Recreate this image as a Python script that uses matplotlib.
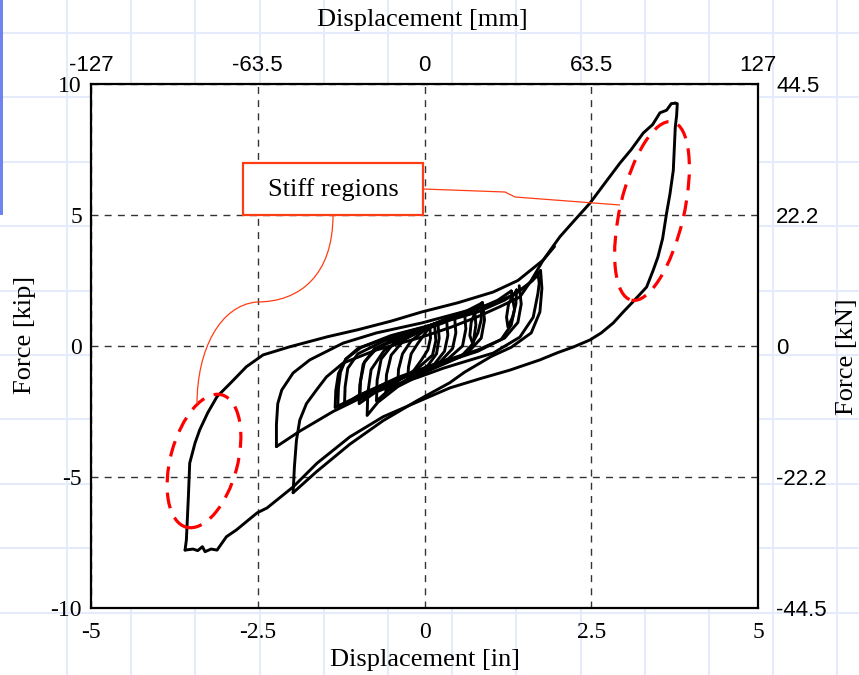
import numpy as np
import matplotlib
matplotlib.use('Agg')
from matplotlib import pyplot as plt
from matplotlib.patches import Ellipse, Rectangle, PathPatch
from matplotlib.path import Path
from matplotlib.lines import Line2D
from matplotlib.transforms import IdentityTransform

plt.rcParams['axes.unicode_minus'] = False

SERIF = ['Liberation Serif', 'DejaVu Serif']
SANS = ['Liberation Sans', 'DejaVu Sans']

# tick values / labels
in_ticks = [-5, -2.5, 0, 2.5, 5]
in_labels = ['-5', '-2.5', '0', '2.5', '5']
mm_labels = ['-127', '-63.5', '0', '63.5', '127']
kip_ticks = [-10, -5, 0, 5, 10]
kip_labels = ['-10', '-5', '0', '5', '10']
kn_labels = ['-44.5', '-22.2', '0', '22.2', '44.5']

# displacement [in] / force [kip]
# small cycles
c1_d = [0.08, 0.09, 0.05, -0.05, -0.15, -0.25, -0.24, -0.2, -0.1, 0.0, 0.08]
c1_f = [0.75, 0.3, -0.15, -0.55, -0.9, -1.25, -0.8, -0.3, 0.1, 0.45, 0.75]
c2_d = [0.2, 0.22, 0.18, 0.05, -0.15, -0.4, -0.39, -0.33, -0.2, 0.0, 0.2]
c2_f = [0.9, 0.3, -0.3, -0.75, -1.1, -1.5, -0.9, -0.3, 0.2, 0.6, 0.9]
c3_d = [0.33, 0.35, 0.3, 0.1, -0.2, -0.58, -0.57, -0.5, -0.3, 0.0, 0.33]
c3_f = [1.05, 0.4, -0.2, -0.85, -1.2, -1.75, -1.1, -0.35, 0.25, 0.65, 1.05]
c4_d = [0.45, 0.47, 0.42, 0.2, -0.2, -0.5, -0.72, -0.71, -0.65, -0.45, 0.0, 0.45]
c4_f = [1.15, 0.5, -0.1, -0.7, -1.25, -1.6, -2.1, -1.3, -0.5, 0.15, 0.7, 1.15]
c5_d = [0.75, 0.77, 0.73, 0.55, 0.1, -0.4, -0.7, -0.86, -0.85, -0.8, -0.6, -0.2, 0.3, 0.75]
c5_f = [1.45, 0.8, 0.1, -0.4, -0.9, -1.55, -2.15, -2.65, -1.8, -0.9, -0.15, 0.4, 0.95, 1.45]
c6_d = [0.87, 0.9, 0.85, 0.65, 0.2, -0.3, -0.7, -0.98, -0.97, -0.92, -0.75, -0.3, 0.3, 0.87]
c6_f = [1.65, 1.0, 0.3, -0.25, -0.75, -1.2, -1.7, -2.2, -1.5, -0.7, -0.1, 0.35, 0.9, 1.65]
c7_d = [0.86, 0.85, 0.8, 0.72, 0.68, 0.7, 0.76, 0.83, 0.86]
c7_f = [1.64, 1.0, 0.5, 0.11, 0.4, 0.9, 1.3, 1.55, 1.64]
c8_d = [1.3, 1.35, 1.3, 1.15, 0.8, 0.2, -0.4, -0.9, -1.3, -1.29, -1.26, -1.18, -1.0, -0.5, 0.1, 0.7, 1.1, 1.3]
c8_f = [2.1, 1.4, 0.8, 0.25, -0.2, -0.7, -1.25, -1.85, -2.3, -1.6, -1.0, -0.5, -0.1, 0.4, 0.8, 1.3, 1.75, 2.1]
c9_d = [1.38, 1.37, 1.32, 1.25, 1.23, 1.26, 1.32, 1.36, 1.38]
c9_f = [2.14, 1.6, 1.1, 0.73, 1.1, 1.6, 1.9, 2.05, 2.14]
c11_d = [0.15, 0.17, 0.12, -0.1, -0.45, -0.75, -0.97, -0.96, -0.9, -0.7, -0.35, 0.15]
c11_f = [0.85, 0.2, -0.35, -0.85, -1.4, -1.75, -2.05, -1.35, -0.6, -0.05, 0.4, 0.85]
c12_d = [0.6, 0.62, 0.57, 0.35, -0.1, -0.6, -1.0, -1.2, -1.19, -1.15, -1.0, -0.6, 0.0, 0.6]
c12_f = [1.3, 0.65, 0.0, -0.5, -0.95, -1.45, -1.9, -2.25, -1.55, -0.85, -0.3, 0.2, 0.7, 1.3]
c10_d = [1.42, 1.45, 1.4, 1.2, 0.8, 0.2, -0.4, -0.9, -1.34, -1.33, -1.29, -1.18, -0.95, -0.4, 0.2, 0.8, 1.2, 1.45, 1.62, 1.7]
c10_f = [2.3, 1.6, 0.9, 0.3, -0.15, -0.65, -1.2, -1.8, -2.35, -1.7, -1.05, -0.5, -0.05, 0.45, 0.85, 1.3, 1.75, 2.15, 2.5, 2.8]

# medium cycles
b_dn_d = [1.7, 1.72, 1.7, 1.63, 1.43, 1.03, 0.6, 0.28, -0.1, -0.47, -0.97, -1.37, -1.87, -2.22]
b_dn_f = [2.8, 2.4, 2.0, 1.1, 0.34, -0.27, -0.6, -0.85, -1.2, -1.5, -2.0, -2.5, -3.25, -3.84]
b_up_d = [-2.22, -2.22, -2.2, -2.14, -1.97, -1.72, -1.22, -0.72, -0.04, 0.5, 1.0, 1.33, 1.55, 1.68, 1.74]
b_up_f = [-3.84, -3.0, -2.2, -1.68, -1.03, -0.53, 0.11, 0.5, 0.88, 1.25, 1.6, 1.95, 2.35, 2.65, 2.88]
c_dn_d = [1.74, 1.76, 1.73, 1.6, 1.3, 1.0, 0.6, 0.38, -0.12, -0.62, -1.12, -1.62, -1.97]
c_dn_f = [2.88, 2.2, 1.3, 0.5, -0.05, -0.4, -1.0, -1.4, -2.1, -2.85, -3.75, -4.8, -5.6]

# large cycle
bl_d = [-1.97, -1.95, -1.92, -1.87, -1.77, -1.62, -1.47, -1.22, -0.72, -0.04, 0.4, 0.78, 1.13,
        1.43, 1.6, 1.78, 2.03, 2.25, 2.48, 2.7, 2.93, 3.1, 3.28, 3.42, 3.53, 3.63, 3.7, 3.76]
bl_f = [-5.6, -4.6, -3.6, -2.83, -2.2, -1.68, -1.18, -0.65, -0.15, 0.34, 0.72, 1.1, 1.5,
        1.87, 2.5, 3.28, 4.17, 4.8, 5.45, 6.2, 6.98, 7.5, 8.13, 8.45, 8.9, 9.0, 9.25, 9.27]
bu_d = [3.76, 3.79, 3.78, 3.76, 3.73, 3.68, 3.63, 3.57, 3.5, 3.43, 3.33, 3.13, 2.98, 2.83, 2.65,
        2.48, 2.23, 2.0, 1.73, 1.28, 0.83, 0.38, -0.04, -0.62, -1.12, -1.61, -1.97, -2.36, -2.51,
        -2.82, -2.97, -3.11, -3.2, -3.29, -3.33, -3.4, -3.47, -3.59]
bu_f = [9.27, 9.25, 8.8, 8.36, 6.7, 5.8, 5.08, 4.1, 3.4, 2.9, 2.25, 1.7, 1.3, 0.88, 0.5,
        0.23, -0.04, -0.25, -0.53, -0.92, -1.25, -1.6, -2.06, -2.7, -3.47, -4.47, -5.38, -6.18, -6.37,
        -7.02, -7.28, -7.79, -7.75, -7.85, -7.66, -7.81, -7.75, -7.79]
br_d = [-3.59, -3.57, -3.54, -3.52, -3.44, -3.37, -3.25, -3.11, -2.91, -2.67, -2.42, -2.02,
        -1.46, -1.0, -0.5, -0.04, 0.5, 1.03, 1.4, 1.78, 1.95]
br_f = [-7.79, -7.4, -5.75, -4.47, -3.7, -3.2, -2.55, -1.93, -1.42, -0.79, -0.34, -0.03,
        0.35, 0.62, 0.95, 1.3, 1.65, 2.06, 2.5, 3.28, 3.8]

curves = [(c1_d, c1_f), (c2_d, c2_f), (c3_d, c3_f), (c4_d, c4_f), (c5_d, c5_f),
          (c6_d, c6_f), (c7_d, c7_f), (c8_d, c8_f), (c9_d, c9_f), (c11_d, c11_f),
          (c12_d, c12_f), (c10_d, c10_f),
          (b_dn_d, b_dn_f), (b_up_d, b_up_f), (c_dn_d, c_dn_f),
          (bl_d, bl_f), (bu_d, bu_f), (br_d, br_f)]

W, H = 859, 675
fig = plt.figure(figsize=(W / 100, H / 100), dpi=100)
fig.patch.set_facecolor('white')


def px(x, y):
    # picture pixel (top-left origin) -> display coords
    return (x, H - y)


# slide background grid
for gx in np.arange(67, W, 64.2):
    fig.add_artist(Line2D([gx / W, gx / W], [0, 1], transform=fig.transFigure,
                          color='#e6ebfc', lw=1.5, zorder=-5))
for gy in np.arange(33, H + 5, 64.4):
    fig.add_artist(Line2D([0, 1], [1 - gy / H, 1 - gy / H], transform=fig.transFigure,
                          color='#e6ebfc', lw=1.5, zorder=-5))
fig.add_artist(Rectangle(px(0, 215), 3, 215, transform=IdentityTransform(),
                         color='#7084f0', lw=0, zorder=-4))

ax = fig.add_axes([91 / W, (H - 608) / H, 667 / W, 524 / H])
ax.set_facecolor('white')

for d, f in curves:
    ax.plot(d, f, color='black', lw=2.1, solid_joinstyle='round', solid_capstyle='round', zorder=3)

ax.set_xlim(-5, 5)
ax.set_ylim(-10, 10)
ax.set_xticks(in_ticks)
ax.set_xticklabels(in_labels)
ax.set_yticks(kip_ticks)
ax.set_yticklabels(kip_labels)
ax.tick_params(axis='x', length=0, pad=10, labelsize=17, labelfontfamily='Liberation Serif')
ax.tick_params(axis='y', length=0, pad=6.5, labelsize=17, labelfontfamily='Liberation Serif')
ax.grid(True, color='#333333', lw=1.0, linestyle=(0, (5, 4.5)))
for s in ax.spines.values():
    s.set_linewidth(1.6)

ax.set_xlabel('Displacement [in]', family=SERIF, fontsize=19)
ax.xaxis.set_label_coords(0.5, -0.099)
ax.xaxis.label.set_va('center')
ax.set_ylabel('Force [kip]', family=SERIF, fontsize=19)
ax.yaxis.set_label_coords(-0.099, 0.521)
ax.yaxis.label.set_va('center')

ax_top = ax.twiny()
ax_top.set_xlim(ax.get_xlim())
ax_top.set_xticks(in_ticks)
ax_top.set_xticklabels(mm_labels)
ax_top.tick_params(axis='x', length=0, pad=6, labelsize=16, labelfontfamily='Liberation Sans')
ax_top.set_xlabel('Displacement [mm]', family=SERIF, fontsize=19)
ax_top.xaxis.set_label_coords(0.497, 1.122)
ax_top.xaxis.label.set_va('center')

ax_r = ax.twinx()
ax_r.set_ylim(ax.get_ylim())
ax_r.set_yticks(kip_ticks)
ax_r.set_yticklabels(kn_labels)
ax_r.tick_params(axis='y', length=0, pad=13, labelsize=16, labelfontfamily='Liberation Sans')
ax_r.set_ylabel('Force [kN]', family=SERIF, fontsize=19)
ax_r.yaxis.set_label_coords(1.133, 0.479)
ax_r.yaxis.label.set_va('center')
for a in (ax_top, ax_r):
    for s in a.spines.values():
        s.set_visible(False)

# stiff region markers
for cx, cy, w, h, ang in [(204, 461, 67, 137, -15), (652, 211, 64, 183, -13)]:
    fig.add_artist(Ellipse(px(cx, cy), w, h, angle=ang, transform=IdentityTransform(),
                           fill=False, edgecolor='#ff0000', lw=2.3,
                           linestyle=(0, (5, 3.2)), zorder=6))

# callout
orange = '#ff3d14'
fig.add_artist(Rectangle(px(243, 215), 180, 52, transform=IdentityTransform(),
                         facecolor='white', edgecolor=orange, lw=1.6, zorder=7))
fig.text(333 / W, 1 - 190 / H, 'Stiff regions', family=SERIF, fontsize=19,
         ha='center', va='center', zorder=8)
right_lead = Path([px(423, 189), px(505, 192), px(515, 197), px(620, 205)],
                  [Path.MOVETO, Path.LINETO, Path.LINETO, Path.LINETO])
left_lead = Path([px(333, 215), px(333, 275), px(300, 302), px(257, 302),
                  px(220, 305), px(197, 350), px(197, 404)],
                 [Path.MOVETO, Path.CURVE4, Path.CURVE4, Path.CURVE4,
                  Path.CURVE4, Path.CURVE4, Path.CURVE4])
for p in (right_lead, left_lead):
    fig.add_artist(PathPatch(p, transform=IdentityTransform(), fill=False,
                             edgecolor=orange, lw=0.9, zorder=6))

plt.savefig('out.png', dpi=100)
